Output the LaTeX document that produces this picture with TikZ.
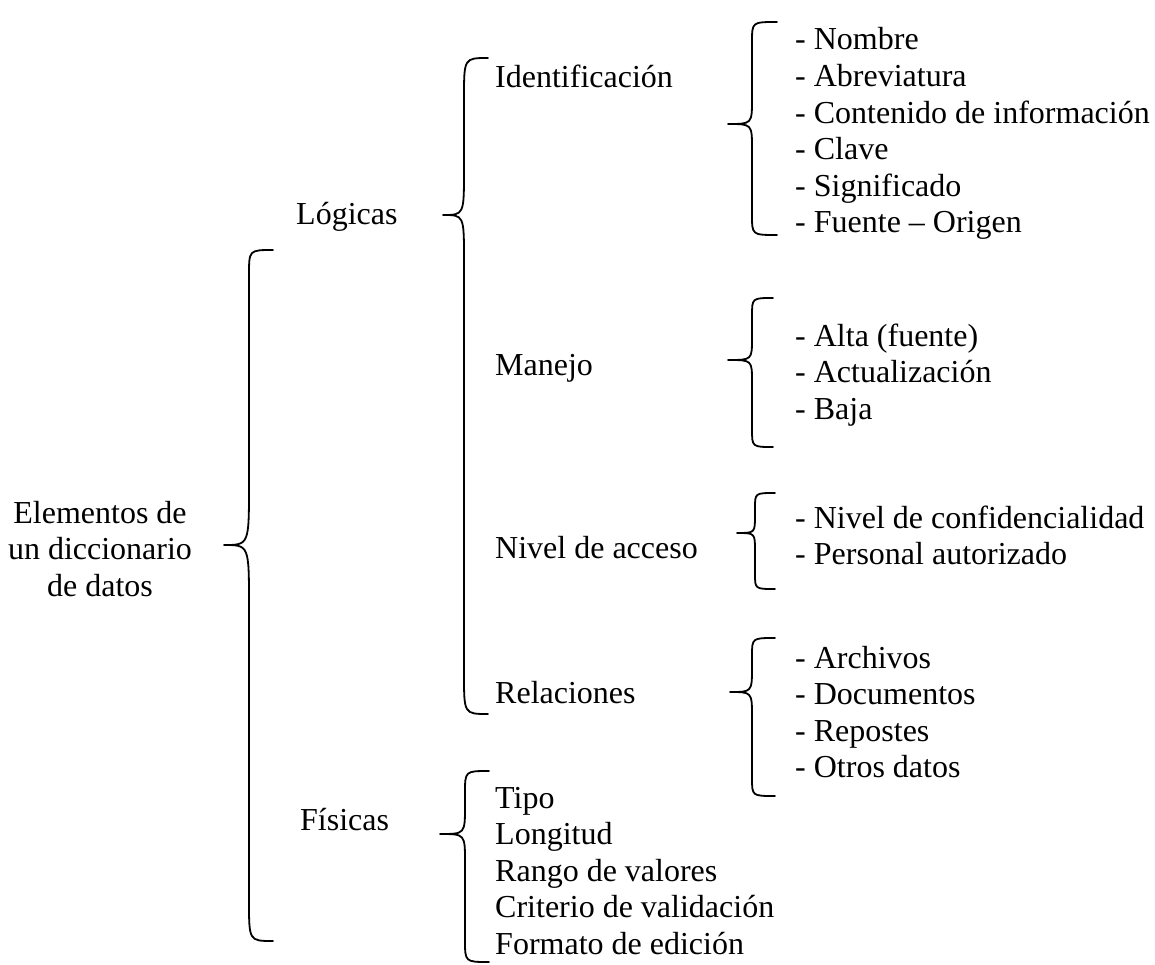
\documentclass[tikz,border=0pt]{standalone}
\usepackage{fontspec}
\setmainfont{Liberation Serif}
% brace: #1 end x, #2 line x, #3 tip x, #4 top y, #5 tip y, #6 bottom y, #7 top curl, #8 tip curl, #9 bottom curl
\newcommand\curlybrace[9]{%
  \draw[bracestyle] (#1,#4) .. controls (#2,#4) .. (#2,#4+#7) -- (#2,#5-#8)
    .. controls (#2,#5) .. (#3,#5) .. controls (#2,#5) .. (#2,#5+#8)
    -- (#2,#6-#9) .. controls (#2,#6) .. (#1,#6);}
\tikzset{
  bracestyle/.style={line width=1.8pt, line cap=round, line join=round},
  lbl/.style={inner sep=0pt, anchor=base west, font=\fontsize{32}{36.7}\selectfont},
  ctr/.style={inner sep=0pt, align=center, font=\fontsize{32}{36.7}\selectfont},
}
\begin{document}
\begin{tikzpicture}[x=1pt,y=-1pt]
\useasboundingbox (0,0) rectangle (1155,965);
% root
\node[ctr] (root) at (100,549) {Elementos de\\un diccionario\\de datos};
\curlybrace{273}{249}{224}{250}{545}{941}{25}{60}{40}
% level 1
\node[lbl] (log) at (296,225) {Lógicas};
\node[lbl] (fis) at (300,830) {Físicas};
\curlybrace{488}{464}{443}{58}{215}{714}{40}{45}{40}
\curlybrace{489}{465}{440}{771}{834}{962}{22}{28}{22}
% level 2
\node[lbl] (ide) at (495,88) {Identificación};
\node[lbl] (man) at (495,375) {Manejo};
\node[lbl] (niv) at (495,558) {Nivel de acceso};
\node[lbl] (rel) at (495,703) {Relaciones};
% Fisicas list
\foreach \t [count=\i] in {Tipo,Longitud,Rango de valores,Criterio de validación,Formato de edición}
  \node[lbl] (f\i) at (495,{808+(\i-1)*36.5}) {\t};
% Identificacion list
\curlybrace{777}{752}{728}{22}{124}{235}{20}{25}{20}
\foreach \t [count=\i] in {- Nombre,- Abreviatura,- Contenido de información,- Clave,- Significado,- Fuente – Origen}
  \node[lbl] (a\i) at (795,{50+(\i-1)*36.6}) {\t};
% Manejo list
\curlybrace{773}{752}{728}{298}{360}{447}{18}{22}{18}
\foreach \t [count=\i] in {- Alta (fuente),- Actualización,- Baja}
  \node[lbl] (b\i) at (795,{346+(\i-1)*36.6}) {\t};
% Nivel list
\curlybrace{775}{755}{737}{493}{533}{589}{15}{18}{15}
\foreach \t [count=\i] in {- Nivel de confidencialidad,- Personal autorizado}
  \node[lbl] (c\i) at (795,{528+(\i-1)*36.6}) {\t};
% Relaciones list
\curlybrace{775}{752}{730}{638}{692}{796}{18}{25}{18}
\foreach \t [count=\i] in {- Archivos,- Documentos,- Repostes,- Otros datos}
  \node[lbl] (d\i) at (795,{668+(\i-1)*36.6}) {\t};
\end{tikzpicture}
\end{document}
